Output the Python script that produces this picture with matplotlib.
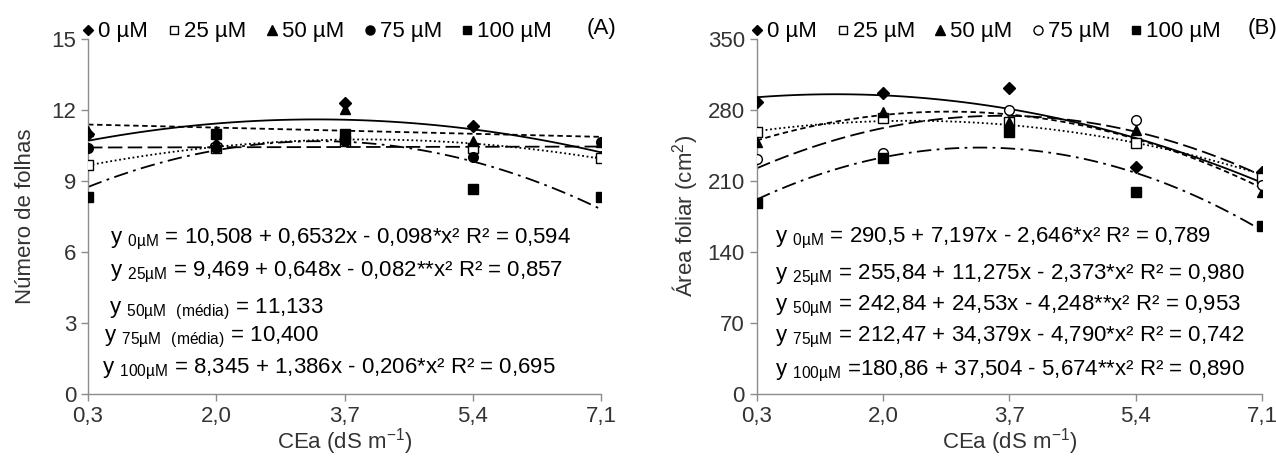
import numpy as np
import matplotlib
matplotlib.use('Agg')
import matplotlib.pyplot as plt
from matplotlib.lines import Line2D

plt.rcParams['font.family'] = 'Liberation Sans'
plt.rcParams['mathtext.fontset'] = 'custom'
plt.rcParams['mathtext.rm'] = 'Liberation Sans'
plt.rcParams['font.size'] = 16

# CEa levels (dS m-1)
cea = [0.3, 2.0, 3.7, 5.4, 7.1]
cea_labels = ['0,3', '2,0', '3,7', '5,4', '7,1']
doses = ['0 µM', '25 µM', '50 µM', '75 µM', '100 µM']

# (A) numero de folhas
nf_0 = [11.0, 10.5, 12.3, 11.3, 10.0]
nf_25 = [9.67, 10.4, 10.7, 10.4, 9.95]
nf_50 = [11.1, 11.1, 12.05, 10.7, 10.65]
nf_75 = [10.4, 10.4, 10.7, 10.0, 10.65]
nf_100 = [8.3, 11.0, 11.0, 8.65, 8.3]

# (B) area foliar (cm2)
af_0 = [288, 297, 302, 224, 219]
af_25 = [258, 272, 268, 247, 213]
af_50 = [248, 278, 268, 260, 199]
af_75 = [232, 237, 280, 270, 206]
af_100 = [188, 233, 258, 199, 166]

# regression coefficients (a, b, c) of y = a + b x + c x^2
nf_coef_0 = [10.508, 0.6532, -0.098]
nf_coef_25 = [9.469, 0.648, -0.082]
nf_coef_100 = [8.345, 1.386, -0.206]
af_coef_0 = [290.5, 7.197, -2.646]
af_coef_25 = [255.84, 11.275, -2.373]
af_coef_50 = [242.84, 24.53, -4.248]
af_coef_75 = [212.47, 34.379, -4.790]
af_coef_100 = [180.86, 37.504, -5.674]

eq_A = ['y $_{\\mathregular{0µM}}$ = 10,508 + 0,6532x - 0,098*x² R² = 0,594',
        'y $_{\\mathregular{25µM}}$ = 9,469 + 0,648x - 0,082**x² R² = 0,857',
        'y $_{\\mathregular{50µM\\ \\ (média)}}$ = 11,133',
        'y $_{\\mathregular{75µM\\ \\ (média)}}$ = 10,400',
        'y $_{\\mathregular{100µM}}$ = 8,345 + 1,386x - 0,206*x² R² = 0,695']
eq_B = ['y $_{\\mathregular{0µM}}$ = 290,5 + 7,197x - 2,646*x² R² = 0,789',
        'y $_{\\mathregular{25µM}}$ = 255,84 + 11,275x - 2,373*x² R² = 0,980',
        'y $_{\\mathregular{50µM}}$ = 242,84 + 24,53x - 4,248**x² R² = 0,953',
        'y $_{\\mathregular{75µM}}$ = 212,47 + 34,379x - 4,790*x² R² = 0,742',
        'y $_{\\mathregular{100µM}}$ =180,86 + 37,504 - 5,674**x² R² = 0,890']

markers = ['D', 's', '^', 'o', 's']
faces_A = ['black', 'white', 'black', 'black', 'black']
faces_B = ['black', 'white', 'black', 'white', 'black']
msizes = [6, 6.5, 7, 7, 6.5]
styles = ['-', (0, (1, 1.5)), (0, (3, 2)), (0, (8, 3)), (0, (8, 3, 1.5, 3))]

xs = np.linspace(0.3, 7.1, 100)


def quad(c):
    return c[0] + c[1] * xs + c[2] * xs ** 2


def lin(y):
    p = np.polyfit(cea, y, 1)
    return np.polyval(p, xs)


def setup(ax, ymax, ystep):
    ax.set_xlim(0.3, 7.1)
    ax.set_ylim(0, ymax)
    ax.set_xticks(cea)
    ax.set_xticklabels(cea_labels)
    ax.set_yticks(np.arange(0, ymax + 1, ystep))
    for s in ['top', 'right']:
        ax.spines[s].set_visible(False)
    for s in ['left', 'bottom']:
        ax.spines[s].set_color('#8c8c8c')
        ax.spines[s].set_linewidth(1)
    ax.tick_params(colors='#8c8c8c', labelcolor='#333333', length=5, width=1,
                   labelsize=16)
    ax.tick_params(axis='x', pad=4)
    ax.set_xlabel('CEa (dS m$^{\\mathregular{-1}}$)', fontsize=16, color='#333333',
                  labelpad=-1)


def legend(ax, faces, tag):
    hs = [Line2D([], [], ls='none', marker=markers[i], ms=msizes[i] - 0.5,
                 mfc=faces[i], mec='black') for i in range(5)]
    ax.legend(hs, doses, ncol=5, loc='lower left', bbox_to_anchor=(-0.01, 0.99),
              frameon=False, handlelength=0.5, handletextpad=0.2, columnspacing=0.9,
              borderaxespad=0, borderpad=0, fontsize=16)
    ax.text(1.03, 1.03, tag, transform=ax.transAxes, ha='right', va='center',
            fontsize=16)


fig = plt.figure(figsize=(12.76, 4.57), dpi=100)
axA = fig.add_axes([0.069, 0.138, 0.402, 0.777])
axB = fig.add_axes([0.593, 0.138, 0.396, 0.777])

# panel A
nf_all = [nf_0, nf_25, nf_50, nf_75, nf_100]
nf_fit = [quad(nf_coef_0), quad(nf_coef_25), lin(nf_50), lin(nf_75), quad(nf_coef_100)]
for i in range(5):
    axA.plot(xs, nf_fit[i], color='black', lw=1.3, ls=styles[i], zorder=2)
for i in range(5):
    axA.plot(cea, nf_all[i], ls='none', marker=markers[i], ms=msizes[i],
             mfc=faces_A[i], mec='black', mew=1, zorder=3 + i)
setup(axA, 15, 3)
axA.set_ylabel('Número de folhas', fontsize=16, color='#333333')
axA.yaxis.set_label_coords(-0.102, 0.5)
legend(axA, faces_A, '(A)')
ypos = [0.434, 0.341, 0.239, 0.158, 0.068]
xpos = [0.043, 0.043, 0.040, 0.031, 0.027]
for i in range(5):
    axA.text(xpos[i], ypos[i], eq_A[i], transform=axA.transAxes, ha='left',
             va='center', fontsize=16)

# panel B
af_all = [af_0, af_25, af_50, af_75, af_100]
af_fit = [quad(af_coef_0), quad(af_coef_25), quad(af_coef_50), quad(af_coef_75),
          quad(af_coef_100)]
for i in range(5):
    axB.plot(xs, af_fit[i], color='black', lw=1.3, ls=styles[i], zorder=2)
for i in range(5):
    axB.plot(cea, af_all[i], ls='none', marker=markers[i], ms=msizes[i],
             mfc=faces_B[i], mec='black', mew=1, zorder=3 + i)
setup(axB, 350, 70)
axB.set_ylabel('Área foliar (cm$^{\\mathregular{2}}$)', fontsize=16, color='#333333')
axB.yaxis.set_label_coords(-0.112, 0.5)
legend(axB, faces_B, '(B)')
ypos = [0.439, 0.335, 0.245, 0.158, 0.062]
for i in range(5):
    axB.text(0.036, ypos[i], eq_B[i], transform=axB.transAxes, ha='left',
             va='center', fontsize=16)

fig.savefig('out.png', dpi=100)
